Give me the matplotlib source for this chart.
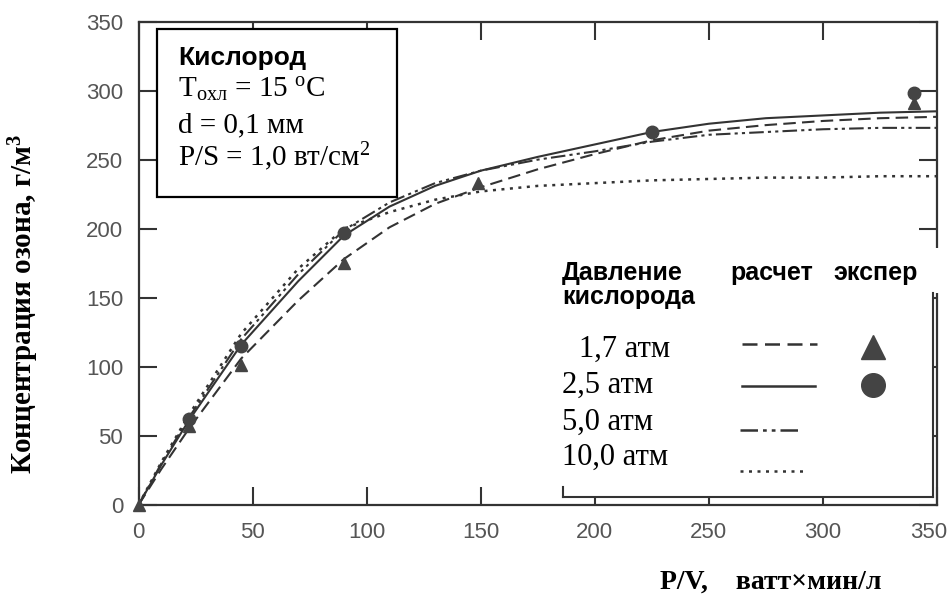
import matplotlib
matplotlib.use('Agg')
import matplotlib.pyplot as plt
import matplotlib.transforms as mtransforms
from matplotlib.patches import Rectangle
from matplotlib.lines import Line2D

plt.rcParams['mathtext.fontset'] = 'custom'
plt.rcParams['mathtext.rm'] = 'Liberation Serif'
plt.rcParams['mathtext.bf'] = 'Liberation Serif:bold'
plt.rcParams['mathtext.it'] = 'Liberation Serif:italic'

# calculated curves
x_calc = [0, 10, 22, 45, 70, 90, 110, 130, 150, 175, 200, 225, 250, 275, 300, 325, 350]
y_17 = [0, 26, 55, 106, 148, 178, 201, 218, 230, 243, 254, 264, 271, 275, 278, 280, 281]
y_25 = [0, 29, 61, 116, 162, 195, 216, 231, 242, 252, 261, 270, 276, 280, 282, 284, 285]
y_50 = [0, 30, 63, 120, 167, 199, 219, 233, 242, 250, 256, 263, 268, 270, 272, 273, 273]
y_100 = [0, 31, 65, 124, 171, 200, 212, 221, 227, 231, 233, 235, 236, 237, 237, 238, 238]

# experimental points
x_tri = [0, 22, 45, 90, 149, 340]
y_tri = [0, 57, 101, 175, 233, 291]
x_circ = [22, 45, 90, 225, 340]
y_circ = [62, 115, 197, 270, 298]

xticks = [0, 50, 100, 150, 200, 250, 300, 350]
yticks = [0, 50, 100, 150, 200, 250, 300, 350]

W, H = 949, 598
LEFT, RIGHT, TOP, BOTTOM = 138.5, 937.0, 21.5, 505.0
INK = '#333333'


def ax_xy(px, py):
    # pixel position in the figure -> axes fraction
    return (px - LEFT) / (RIGHT - LEFT), (BOTTOM - py) / (BOTTOM - TOP)


fig = plt.figure(figsize=(W / 100, H / 100), dpi=100)
ax = fig.add_axes([LEFT / W, 1 - BOTTOM / H, (RIGHT - LEFT) / W, (BOTTOM - TOP) / H])

lw = 1.5
ax.plot(x_calc, y_17, color=INK, lw=lw, dashes=(6, 3))
ax.plot(x_calc, y_25, color=INK, lw=lw)
ax.plot(x_calc, y_50, color=INK, lw=lw, dashes=(7, 2, 1.5, 2, 1.5, 2))
ax.plot(x_calc, y_100, color=INK, lw=lw + 0.3, dashes=(1.2, 2.2))
ax.plot(x_tri, y_tri, '^', color='#444444', ms=9, clip_on=False, zorder=5)
ax.plot(x_circ, y_circ, 'o', color='#444444', ms=9, zorder=5)

ax.set_xlim(0, 350)
ax.set_ylim(0, 350)
ax.set_xticks(xticks)
ax.set_yticks(yticks)
ax.tick_params(direction='in', top=True, right=True, length=13, width=1.5,
               color=INK, labelsize=16, labelcolor='#555555')
ax.tick_params(axis='y', pad=11)
ax.tick_params(axis='x', pad=12)
for lab in ax.get_xticklabels() + ax.get_yticklabels():
    lab.set_family('Liberation Sans')
# the last x label sits a little left of its tick in the original
last = ax.get_xticklabels()[-1]
last.set_transform(last.get_transform() +
                   mtransforms.ScaledTranslation(-8 / 100, 0, fig.dpi_scale_trans))
for s in ax.spines.values():
    s.set_color(INK)
    s.set_linewidth(1.6)

# info box
x0, y0 = ax_xy(157, 197)
x1, y1 = ax_xy(397, 29)
ax.add_patch(Rectangle((x0, y0), x1 - x0, y1 - y0, transform=ax.transAxes,
                       facecolor='white', edgecolor='black', lw=1.6, zorder=6))
serif = dict(family='Liberation Serif', fontsize=21, color='black', zorder=7,
             va='baseline', ha='left', transform=ax.transAxes)
ax.text(*ax_xy(178, 65), 'Кислород', family='Liberation Sans', weight='bold',
        fontsize=19, va='baseline', ha='left', transform=ax.transAxes, zorder=7)
ax.text(*ax_xy(178, 98), 'T$_{\\mathrm{охл}}$ = 15 $^{\\mathrm{o}}$C', **serif)
ax.text(*ax_xy(178, 132), 'd = 0,1 мм', **serif)
ax.text(*ax_xy(178, 166), 'P/S = 1,0 вт/см$^{2}$', **serif)

# legend block
hx0, hy0 = ax_xy(553, 293)
hx1, hy1 = ax_xy(943, 248)
ax.add_patch(Rectangle((hx0, hy0), hx1 - hx0, hy1 - hy0, transform=ax.transAxes,
                       facecolor='white', edgecolor='none', zorder=6, clip_on=False))
bx0, by0 = ax_xy(553, 497)
bx1, by1 = ax_xy(933, 293)
ax.add_patch(Rectangle((bx0, by0), bx1 - bx0, by1 - by0, transform=ax.transAxes,
                       facecolor='white', edgecolor='none', zorder=6))
frame = [((563, 487), (563, 497)), ((563, 497), (933, 497)), ((933, 497), (933, 293))]
for a, b in frame:
    pa, pb = ax_xy(*a), ax_xy(*b)
    ax.add_line(Line2D([pa[0], pb[0]], [pa[1], pb[1]], transform=ax.transAxes,
                       color=INK, lw=1.5, zorder=7))

head = dict(family='Liberation Sans', weight='bold', fontsize=18, va='baseline',
            ha='left', transform=ax.transAxes, zorder=7)
ax.text(*ax_xy(562, 280), 'Давление', **head)
ax.text(*ax_xy(562, 304), 'кислорода', **head)
ax.text(*ax_xy(730, 280), 'расчет', **head)
ax.text(*ax_xy(833, 280), 'экспер', **head)

row = dict(serif)
row['fontsize'] = 22
ax.text(*ax_xy(579, 357), '1,7 атм', **row)
ax.text(*ax_xy(562, 393), '2,5 атм', **row)
ax.text(*ax_xy(562, 430), '5,0 атм', **row)
ax.text(*ax_xy(562, 465), '10,0 атм', **row)

samples = [(344, 742, 817, dict(dashes=(6, 3))),
           (386, 742, 815, dict()),
           (430, 740, 800, dict(dashes=(7, 2, 1.5, 2, 1.5, 2))),
           (471, 740, 807, dict(dashes=(1.2, 2.2)))]
for py, xa, xb, kw in samples:
    pa, pb = ax_xy(xa, py), ax_xy(xb, py)
    ax.add_line(Line2D([pa[0], pb[0]], [pa[1], pb[1]], transform=ax.transAxes,
                       color=INK, lw=1.8, zorder=7, **kw))
ax.plot(*ax_xy(873, 347), '^', color='#444444', ms=17, transform=ax.transAxes, zorder=7)
ax.plot(*ax_xy(873, 385), 'o', color='#444444', ms=17, transform=ax.transAxes, zorder=7)

# axis titles
fig.text(24 / W, 1 - 304 / H, 'Концентрация озона, г/м$^{\\mathbf{3}}$',
         family='Liberation Serif', weight='bold', fontsize=21, rotation=90,
         ha='center', va='center')
fig.text(660 / W, 1 - 589 / H, 'P/V,    ватт×мин/л', family='Liberation Serif',
         weight='bold', fontsize=20, ha='left', va='baseline')

fig.savefig('out.png', dpi=100)
